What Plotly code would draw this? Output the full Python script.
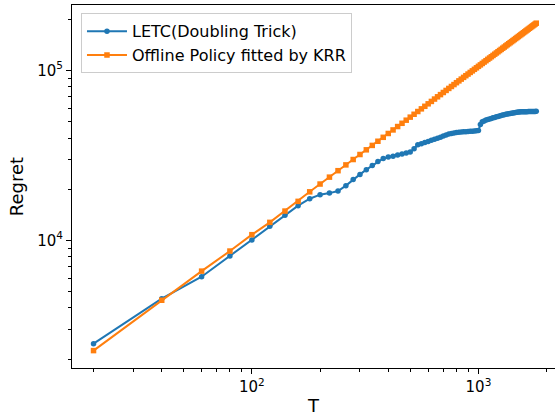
import plotly.graph_objects as go

T = list(range(20, 1801, 20))

letc_regret = [
    2466, 4540, 6110, 8090, 10040, 12090, 14030, 16000, 17580, 18570,
    18970, 19500, 20990, 22840, 24440, 26060, 27600, 29150, 30350, 30900,
    31300, 31750, 32200, 32650, 33070, 34600, 36540, 37000, 37600, 38200,
    38800, 39300, 39900, 40500, 41100, 41700, 42200, 42600, 42900, 43100,
    43250, 43400, 43500, 43600, 43700, 43800, 43900, 44000, 44100, 44300,
    48000, 49900, 50400, 51000, 51400, 51800, 52200, 52600, 52900, 53300,
    53600, 54000, 54300, 54600, 54900, 55200, 55400, 55600, 55800, 56000,
    56200, 56400, 56600, 56800, 56900, 57000, 57050, 57100, 57100, 57150,
    57200, 57200, 57250, 57300, 57300, 57350, 57350, 57400, 57400, 57450,
]

krr_regret = [
    2245, 4440, 6590, 8650, 10800, 12760, 14870, 16960, 19300, 21450,
    23550, 25700, 27800, 29900, 32000, 34100, 36200, 38300, 40400, 42550,
    44650, 46750, 48850, 50950, 53100, 55200, 57300, 59400, 61500, 63600,
    65700, 67850, 69950, 72050, 74150, 76250, 78350, 80450, 82550, 84700,
    86800, 88900, 91000, 93100, 95200, 97300, 99400, 101500, 103600, 105700,
    107800, 109900, 112000, 114100, 116200, 118300, 120400, 122500, 124600, 126700,
    128800, 130900, 133000, 135100, 137200, 139300, 141400, 143500, 145600, 147700,
    149800, 151900, 154000, 156100, 158200, 160300, 162400, 164500, 166600, 168700,
    170800, 172900, 175000, 177100, 179200, 181300, 183400, 185500, 187600, 189700,
]

series_names = ["LETC(Doubling Trick)", "Offline Policy fitted by KRR"]
x_major = [100, 1000]
x_major_text = ["10<sup>2</sup>", "10<sup>3</sup>"]
y_major = [10000, 100000]
y_major_text = ["10<sup>4</sup>", "10<sup>5</sup>"]
x_minor = [20, 30, 40, 50, 60, 70, 80, 90, 200, 300, 400, 500, 600, 700, 800, 900, 2000]
y_minor = [2000, 3000, 4000, 5000, 6000, 7000, 8000, 9000,
           20000, 30000, 40000, 50000, 60000, 70000, 80000, 90000, 200000]

FONT = "DejaVu Sans"

fig = go.Figure()
fig.add_trace(go.Scatter(
    x=T, y=letc_regret, name=series_names[0], mode="lines+markers",
    line=dict(color="#1f77b4", width=2),
    marker=dict(symbol="circle", size=5.5, color="#1f77b4"),
))
fig.add_trace(go.Scatter(
    x=T, y=krr_regret, name=series_names[1], mode="lines+markers",
    line=dict(color="#ff7f0e", width=2),
    marker=dict(symbol="square", size=5.5, color="#ff7f0e"),
))

fig.update_layout(
    width=555, height=417,
    margin=dict(l=72, r=0, t=5, b=49),
    paper_bgcolor="white", plot_bgcolor="white",
    font=dict(family=FONT, color="black", size=14),
    showlegend=True,
    legend=dict(
        x=0.0186, y=0.977, xanchor="left", yanchor="top",
        bgcolor="rgba(255,255,255,0.8)", bordercolor="#cccccc", borderwidth=1,
        font=dict(family=FONT, size=16, color="black"),
        tracegroupgap=0, itemwidth=40,
    ),
)

fig.update_xaxes(
    type="log", range=[1.206, 3.338],
    showgrid=False, zeroline=False,
    showline=True, linecolor="black", linewidth=1, mirror=True,
    ticks="outside", ticklen=5, tickwidth=1, tickcolor="black",
    tickvals=x_major, ticktext=x_major_text,
    tickfont=dict(family=FONT, size=15, color="black"),
    minor=dict(ticks="outside", ticklen=3, tickwidth=1, tickcolor="black", tickvals=x_minor, showgrid=False),
    title=dict(text="T", font=dict(family=FONT, size=18, color="black"), standoff=4),
)
fig.update_yaxes(
    type="log", range=[3.2488, 5.385],
    showgrid=False, zeroline=False,
    showline=True, linecolor="black", linewidth=1, mirror=True,
    ticks="outside", ticklen=5, tickwidth=1, tickcolor="black",
    tickvals=y_major, ticktext=y_major_text,
    tickfont=dict(family=FONT, size=15, color="black"),
    minor=dict(ticks="outside", ticklen=3, tickwidth=1, tickcolor="black", tickvals=y_minor, showgrid=False),
    title=dict(text="Regret", font=dict(family=FONT, size=18, color="black"), standoff=8),
)

fig.write_html("out.html")
